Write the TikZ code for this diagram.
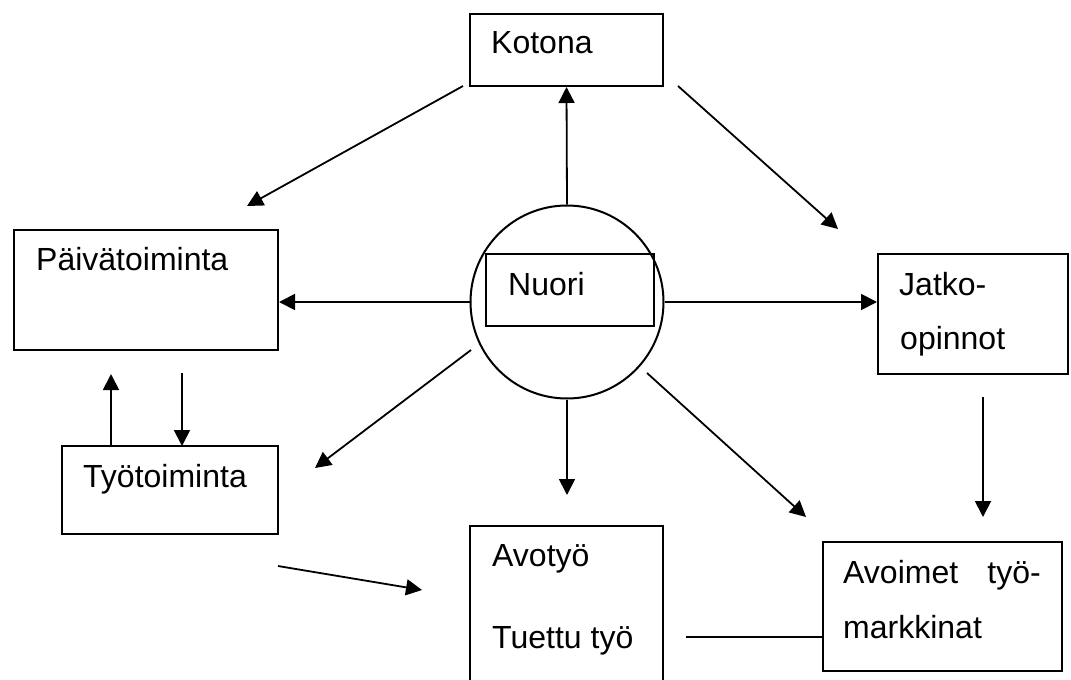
\documentclass[tikz,border=0pt]{standalone}
\usepackage{fontspec}
\setmainfont{Liberation Sans}
\usetikzlibrary{arrows.meta}
\begin{document}
\begin{tikzpicture}[x=1pt,y=-1pt,
  box/.style={draw,line width=2pt,inner sep=0pt},
  lbl/.style={anchor=base west,inner sep=0pt,font=\fontsize{32}{38}\selectfont},
  arr/.style={line width=1.8pt,-{Triangle[length=16pt,width=16pt]}},
  plain/.style={line width=1.8pt}]
\useasboundingbox (0,0) rectangle (1071,680);
% boxes
\node[box,minimum width=193pt,minimum height=72pt] (kotona) at (566.5,50) {};
\node[box,minimum width=264pt,minimum height=120pt] (paiva) at (146,290) {};
\node[box,minimum width=216pt,minimum height=88pt] (tyo) at (170,490) {};
\node[draw,circle,line width=2pt,minimum size=193pt,inner sep=0pt] (nuori) at (567,302) {};
\node[box,minimum width=168pt,minimum height=72pt] (nuoribox) at (570,290) {};
\node[box,minimum width=190pt,minimum height=120pt] (jatko) at (973,314) {};
\node[box,minimum width=239pt,minimum height=129pt] (avoimet) at (942.5,606.5) {};
\node[box,minimum width=193pt,minimum height=164pt] (avotyo) at (566.5,608) {};
% texts
\node[lbl] (t1) at (491,53) {Kotona};
\node[lbl] (t2) at (36,270) {Päivätoiminta};
\node[lbl] (t3) at (508,295) {Nuori};
\node[lbl] (t4) at (899,295) {Jatko-};
\node[lbl] (t5) at (900,349) {opinnot};
\node[lbl] (t6) at (83,487) {Työtoiminta};
\node[lbl] (t7) at (492,566) {Avotyö};
\node[lbl] (t8) at (492,648) {Tuettu työ};
\node[lbl] (t9) at (843,583) {Avoimet};
\node[lbl,anchor=base east] (t10) at (1041,583) {työ-};
\node[lbl] (t11) at (843,638) {markkinat};
% free end points
\coordinate (k1) at (463,86);
\coordinate (k1t) at (247,206);
\coordinate (k2) at (678,86);
\coordinate (k2t) at (838,229);
\coordinate (pu1) at (111,446);
\coordinate (pu2) at (111,374);
\coordinate (pd1) at (182,373);
\coordinate (pd2) at (182,446);
\coordinate (n1) at (471,350);
\coordinate (n1t) at (315,468);
\coordinate (n2t) at (567,495);
\coordinate (n3) at (647,373);
\coordinate (n3t) at (806,517);
\coordinate (j1) at (983,397);
\coordinate (j1t) at (983,517);
\coordinate (w1) at (278,566);
\coordinate (w1t) at (422,590);
\coordinate (l1) at (686,637);
% connectors
\draw[arr] (nuori.north) -- (kotona.south);
\draw[arr] (k1) -- (k1t);
\draw[arr] (k2) -- (k2t);
\draw[arr] (nuori.west) -- (nuori.west -| paiva.east);
\draw[arr] (nuori.east) -- (nuori.east -| jatko.west);
\draw[arr] (pu1) -- (pu2);
\draw[arr] (pd1) -- (pd2);
\draw[arr] (n1) -- (n1t);
\draw[arr] (nuori.south) -- (n2t);
\draw[arr] (n3) -- (n3t);
\draw[arr] (j1) -- (j1t);
\draw[arr] (w1) -- (w1t);
\draw[plain] (l1) -- (l1 -| avoimet.west);
\end{tikzpicture}
\end{document}
